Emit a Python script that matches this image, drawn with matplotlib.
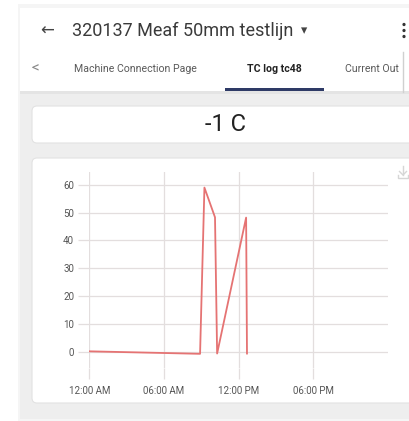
import matplotlib.pyplot as plt
from matplotlib.patches import Rectangle, FancyBboxPatch, Circle
from matplotlib.lines import Line2D

# data: hours since midnight and temperature (C)
hours = [0, 8.9, 9.25, 10.1, 10.27, 12.6, 12.67]
temps = [0.1, -0.8, 59, 48.3, -0.7, 48.2, -0.7]
tick_hours = [0, 6, 12, 18]
tick_labels = ["12:00 AM", "06:00 AM", "12:00 PM", "06:00 PM"]
y_ticks = [0, 10, 20, 30, 40, 50, 60]

W, H = 409, 421
plt.rcParams['font.family'] = ['Roboto', 'DejaVu Sans']

fig = plt.figure(figsize=(W / 100, H / 100), dpi=100)
fig.patch.set_facecolor("white")


def fx(x):
    return x / W


def fy(y):
    return 1 - y / H


def box(x0, y0, x1, y1, color, rounded=0, ec="none", z=-10):
    if rounded:
        p = FancyBboxPatch((fx(x0), fy(y1)), fx(x1) - fx(x0), fy(y0) - fy(y1),
                           boxstyle="round,pad=0,rounding_size=%f" % (rounded / W),
                           transform=fig.transFigure, fc=color, ec=ec, lw=0.8, zorder=z)
    else:
        p = Rectangle((fx(x0), fy(y1)), fx(x1) - fx(x0), fy(y0) - fy(y1),
                      transform=fig.transFigure, fc=color, ec=ec, lw=0.8, zorder=z)
    fig.patches.append(p)


# app screen
box(18, 4, 409, 421, "#f5f5f5", z=-12)
box(20, 8, 409, 419, "#eeeeee", z=-11)
box(20, 8, 409, 92, "white")
box(20, 91, 409, 94, "#e4e4e4", z=-9)

# header
fig.text(fx(47), fy(31), "\u2190", fontsize=12, color="#444", ha="center", va="center")
fig.text(fx(72), fy(31), "320137 Meaf 50mm testlijn", fontsize=13, color="#3a3a3a",
         ha="left", va="center")
fig.text(fx(304), fy(31), "\u25be", fontsize=9, color="#444", ha="center", va="center")
for yy in [24.5, 30.5, 36.5]:
    fig.patches.append(Circle((fx(404), fy(yy)), 1.6 / W, transform=fig.transFigure,
                              fc="#333", ec="none", zorder=2))

# tabs
fig.text(fx(35), fy(68), "<", fontsize=11, color="#888", ha="center", va="center")
fig.text(fx(135.5), fy(69), "Machine Connection Page", fontsize=7.6, color="#5a5a5a",
         ha="center", va="center")
fig.text(fx(274), fy(69), "TC log tc48", fontsize=7.6, color="#222", ha="center",
         va="center", fontweight="bold")
fig.text(fx(345), fy(69), "Current Out", fontsize=7.6, color="#5a5a5a", ha="left", va="center")
box(225, 88.5, 324, 91, "#2e3a66", z=-8)
fig.lines.append(Line2D([fx(403), fx(403)], [fy(52), fy(92)], transform=fig.transFigure,
                        color="#d0d0d0", lw=1))

# value card
box(32, 106, 430, 143, "white", rounded=5, ec="#e2e2e2")
fig.text(fx(225), fy(124.5), "-1 C", fontsize=17, color="#222", ha="center", va="center")

# chart card
box(32, 158, 430, 403, "white", rounded=5, ec="#e2e2e2")

# download icon
ic = "#d6d6d6"
for xs, ys in [([403, 403], [166, 175]), ([399.5, 403, 406.5], [171.5, 175, 171.5]),
               ([398, 398, 408, 408], [175, 178, 178, 175])]:
    fig.lines.append(Line2D([fx(v) for v in xs], [fy(v) for v in ys],
                            transform=fig.transFigure, color=ic, lw=1))

# chart
ax = fig.add_axes([fx(89.3), fy(368), fx(388) - fx(89.3), fy(172) - fy(368)])
ax.set_facecolor("none")
ax.plot(hours, temps, color="#e57373", lw=1.3, zorder=3)
ax.set_xlim(0, 24)
ax.set_ylim(-5.9, 64.6)
ax.set_xticks(tick_hours)
ax.set_xticklabels(tick_labels)
ax.set_yticks(y_ticks)
grid_c = "#e3dede"
ax.grid(True, color=grid_c, lw=0.9)
for s in ax.spines.values():
    s.set_visible(False)
ax.tick_params(axis="both", length=8, width=0.9, color=grid_c, labelsize=7,
               labelcolor="#555")
ax.tick_params(axis="x", pad=5)
ax.tick_params(axis="y", pad=3)

fig.savefig("out.png", dpi=100)
